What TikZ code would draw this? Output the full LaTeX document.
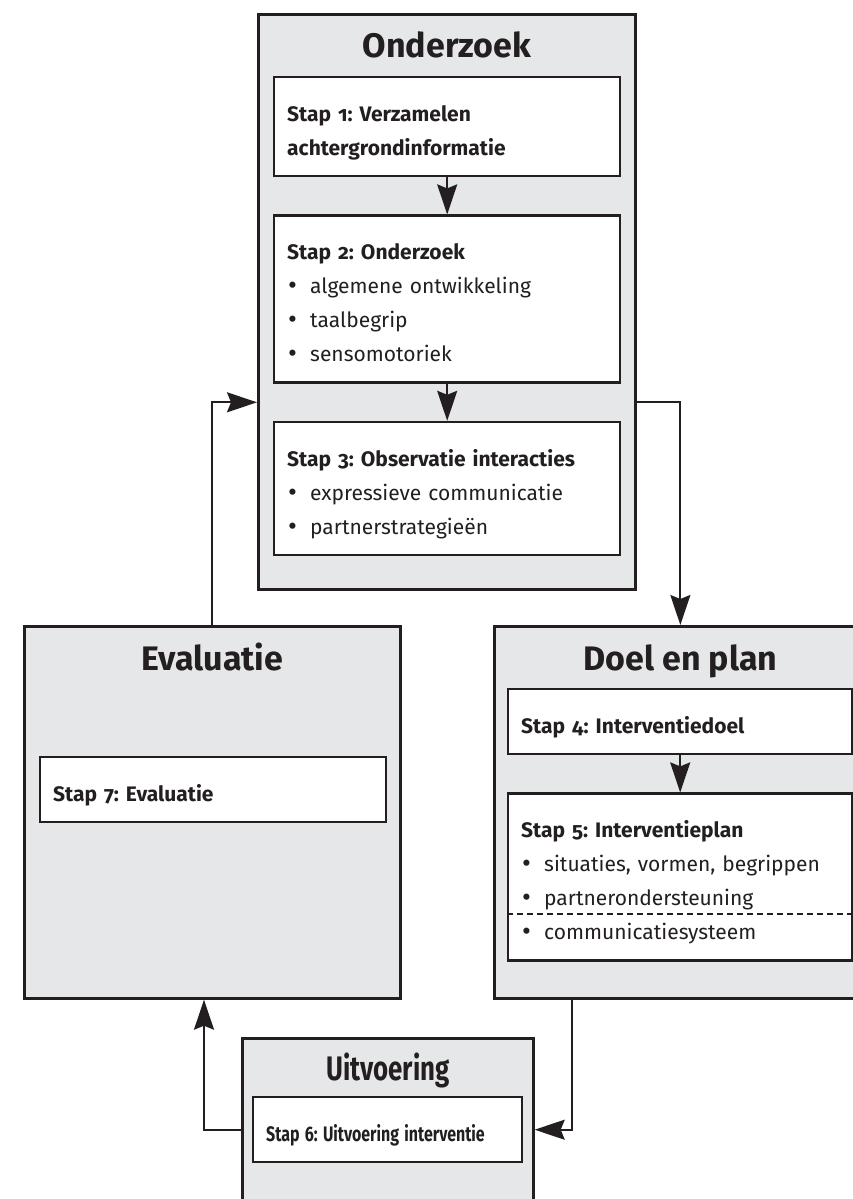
\documentclass[tikz,border=0pt]{standalone}
\usepackage{fontspec}
\setmainfont{Fira Sans}[Numbers=OldStyle]
\usetikzlibrary{positioning, arrows.meta, calc}

\definecolor{kadergrijs}{HTML}{E6E7E8}
\definecolor{lijnzwart}{HTML}{231F20}

\newcommand{\punt}[1]{\makebox[23pt][l]{\hspace{1pt}\raisebox{-1pt}{\scalebox{1.3}{•}}}#1}
\newcommand{\smal}[1]{\scalebox{0.76}[1]{#1}}

\begin{document}
\frenchspacing
\begin{tikzpicture}[x=1pt, y=-1pt,
  fase/.style={draw=lijnzwart, fill=kadergrijs, line width=2.7pt, anchor=north west, inner sep=0pt},
  fasetitel/.style={anchor=base, font=\fontsize{34}{36}\selectfont\bfseries, text=lijnzwart},
  stap/.style={draw=lijnzwart, fill=white, line width=2.4pt, anchor=north west,
               inner xsep=13pt, inner ysep=0pt, align=left, text=lijnzwart,
               font=\fontsize{21}{34}\selectfont,
               execute at begin node={\rule{0pt}{44pt}},
               execute at end node={\rule[-21pt]{0pt}{21pt}}},
  pijl/.style={-{Stealth[length=30pt, width=20pt, inset=4pt]}, line width=2pt, draw=lijnzwart},
  streep/.style={draw=lijnzwart, line width=2pt, dash pattern=on 6pt off 4pt},
  node distance=37pt,
]
\useasboundingbox (0,0) rectangle (853,1199);
\clip (0,0) rectangle (853,1199);

% === Fase: Onderzoek ===
\node[fase, minimum width=377pt, minimum height=575pt] (onderzoek) at (257,13) {};
\node[fasetitel] (titelonderzoek) at ($(onderzoek.north)+(0,45)$) {Onderzoek};

\node[stap, text width=320pt] (s1) at (273,76)
  {\textbf{Stap 1: Verzamelen}\\ \textbf{achtergrondinformatie}};
\node[stap, text width=320pt, below=of s1] (s2)
  {\textbf{Stap 2: Onderzoek}\\ \punt{algemene ontwikkeling}\\ \punt{taalbegrip}\\ \punt{sensomotoriek}};
\node[stap, text width=320pt, below=of s2] (s3)
  {\textbf{Stap 3: Observatie interacties}\\ \punt{expressieve communicatie}\\ \punt{partnerstrategieën}};

% === Fase: Doel en plan ===
\node[fase, minimum width=372pt, minimum height=372pt] (doel) at (493,625) {};
\node[fasetitel] (titeldoel) at ($(doel.north)+(0,45)$) {Doel en plan};

\node[stap, text width=318pt] (s4) at (507,688) {\textbf{Stap 4: Interventiedoel}};
\node[stap, text width=318pt, below=of s4] (s5)
  {\textbf{Stap 5: Interventieplan}\\ \punt{situaties, vormen, begrippen}\\ \punt{partnerondersteuning}\\ \punt{communicatiesysteem}};
\draw[streep] ($(s5.north west)+(0,122)$) -- ($(s5.north east)+(0,122)$);

% === Fase: Evaluatie ===
\node[fase, minimum width=376pt, minimum height=372pt] (evaluatie) at (23,625) {};
\node[fasetitel] (titelevaluatie) at ($(evaluatie.north)+(0,45)$) {Evaluatie};
\node[stap, text width=320pt] (s7) at (39,756) {\textbf{Stap 7: Evaluatie}};

% === Fase: Uitvoering (smal gezet) ===
\node[fase, minimum width=291pt, minimum height=200pt] (uitvoering) at (241,1037) {};
\node[fasetitel] (titeluitvoering) at ($(uitvoering.north)+(0,43)$) {\smal{Uitvoering}};
\node[stap, text width=243pt] (s6) at (252,1096) {\smal{\textbf{Stap 6: Uitvoering interventie}}};

% === Pijlen ===
\draw[pijl] (s1) -- (s2);
\draw[pijl] (s2) -- (s3);
\draw[pijl] (s4) -- (s5);

\coordinate (tussen) at ($(s2.south)!0.5!(s3.north)$);
\coordinate (rechts) at ($(uitvoering.east |- s6)+(37,0)$);
\coordinate (links) at ($(uitvoering.west |- s6)+(-37,0)$);

\draw[pijl] (onderzoek.east |- tussen) -| (doel.north);
\draw[pijl] (doel.south -| rechts) |- (uitvoering.east |- s6);
\draw[pijl] (uitvoering.west |- s6) -| (evaluatie.south -| links);
\draw[pijl] (evaluatie.north) |- (onderzoek.west |- tussen);

\end{tikzpicture}
\end{document}
